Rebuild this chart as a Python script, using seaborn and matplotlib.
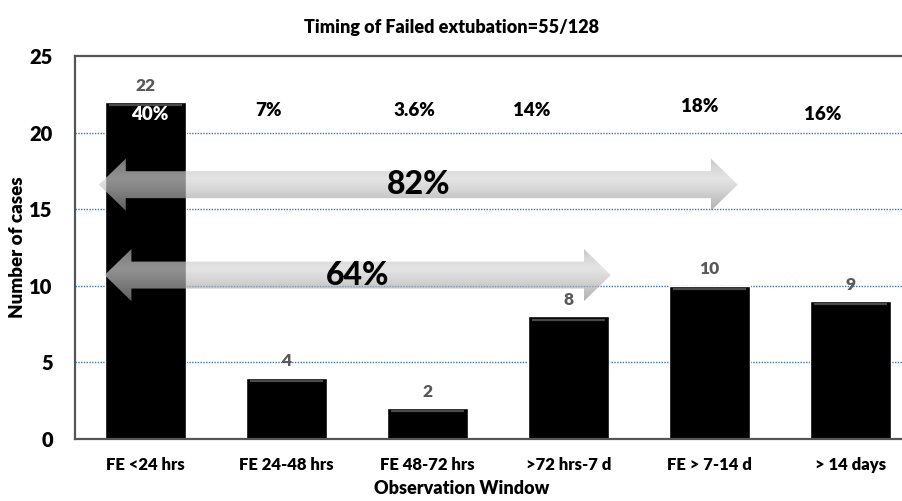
import numpy as np
import pandas as pd
import matplotlib
matplotlib.use("Agg")
import matplotlib.pyplot as plt
from matplotlib.patches import Polygon
from matplotlib.colors import LinearSegmentedColormap
import seaborn as sns

# Data
categories = ["FE <24 hrs", "FE 24-48 hrs", "FE 48-72 hrs", ">72 hrs-7 d", "FE > 7-14 d", "> 14 days"]
cases = [22, 4, 2, 8, 10, 9]
percent_labels = ["40%", "7%", "3.6%", "14%", "18%", "16%"]
cumulative_labels = ["82%", "64%"]
cumulative_spans = [(-0.33, 4.2), (-0.29, 3.3)]   # category-index range covered by each arrow
cumulative_levels = [16.6, 10.7]                  # vertical centre of each arrow (cases)
y_ticks = [0, 5, 10, 15, 20, 25]

# Placement of the percentage annotations (offsets in category units, heights in cases)
pct_dx = [0.03, -0.13, -0.09, -0.26, -0.07, -0.20]
pct_y = [21.15, 21.45, 21.45, 21.45, 21.7, 21.2]

sns.set_theme(style="white")
plt.rcParams["font.family"] = ["Lato", "DejaVu Sans"]

df = pd.DataFrame({"window": categories, "cases": cases})

fig = plt.figure(figsize=(9.03, 5.01), dpi=100)
ax = fig.add_axes([75 / 903, 1 - 439 / 501, 846 / 903, 383 / 501])

sns.barplot(data=df, x="window", y="cases", color="black", width=0.58,
            saturation=1, ax=ax, zorder=2)

ax.set_ylim(0, 25)
ax.set_xlim(-0.5, 5.5)
ax.set_yticks(y_ticks)
ax.set_yticklabels([str(t) for t in y_ticks], fontsize=14.5, fontweight="heavy", color="black")
ax.set_xticks(range(len(categories)))
ax.set_xticklabels(categories, fontsize=12, fontweight="heavy", color="black")
ax.tick_params(axis="y", length=0, pad=16)
ax.tick_params(axis="x", length=0, pad=13)

# dotted gridlines
for t in y_ticks[1:-1]:
    ax.axhline(t, color="#3d72b4", lw=1.0, ls=(0, (1, 1)), zorder=1)

for side in ["left", "top", "bottom"]:
    ax.spines[side].set_color("#555555")
    ax.spines[side].set_linewidth(1.6)
ax.spines["right"].set_visible(False)

# subtle bevel line at the top of every bar
for p in ax.patches:
    x0, w, h = p.get_x(), p.get_width(), p.get_height()
    ax.plot([x0 + 0.03, x0 + w - 0.03], [h - 0.2, h - 0.2], color="#4a4a4a",
            lw=1.6, solid_capstyle="butt", zorder=3)

# counts above bars
ax.bar_label(ax.containers[0], labels=[str(v) for v in cases], padding=6,
             fontsize=12.5, fontweight="heavy", color="#595959")

# percentage of all failed extubations
for i, (lab, dx, yy) in enumerate(zip(percent_labels, pct_dx, pct_y)):
    ax.text(i + dx, yy, lab, ha="center", va="center", fontsize=13.5, fontweight="heavy",
            color="white" if cases[i] > yy else "black", zorder=4)

# double-headed cumulative arrows with a vertical grey gradient
grad = LinearSegmentedColormap.from_list("arrowgrey", ["#8e8e8e", "#a8a8a8", "#c4c4c4", "#d8d8d8"])
body_half = 0.88
head_half = 1.7
head_len = 0.19
for lab, (x0, x1), yc in zip(cumulative_labels, cumulative_spans, cumulative_levels):
    pts = [
        (x0, yc),
        (x0 + head_len, yc + head_half),
        (x0 + head_len, yc + body_half),
        (x1 - head_len, yc + body_half),
        (x1 - head_len, yc + head_half),
        (x1, yc),
        (x1 - head_len, yc - head_half),
        (x1 - head_len, yc - body_half),
        (x0 + head_len, yc - body_half),
        (x0 + head_len, yc - head_half),
    ]
    outline = Polygon(pts, closed=True, facecolor="none", edgecolor="none", zorder=5)
    ax.add_patch(outline)
    ramp = np.linspace(0, 1, 64).reshape(-1, 1)
    ramp = np.clip(1 - np.abs(ramp - 0.62) * 1.6, 0, 1)
    img = ax.imshow(ramp, cmap=grad, aspect="auto", origin="lower", alpha=0.68,
                    extent=(x0, x1, yc - head_half, yc + head_half), zorder=5,
                    interpolation="bilinear")
    img.set_clip_path(outline)
    ax.text((x0 + x1) / 2, yc, lab, ha="center", va="center", fontsize=23,
            fontweight="black", color="black", zorder=6)

ax.set_xlim(-0.5, 5.5)
ax.set_ylim(0, 25)

ax.set_xlabel("Observation Window", fontsize=13, fontweight="heavy", color="black")
ax.set_ylabel("Number of cases", fontsize=13.5, fontweight="heavy", color="black")
ax.xaxis.set_label_coords((462 - 75) / 846, -0.108)
ax.yaxis.set_label_coords(-49 / 846, 0.5)

fig.text(452 / 903, 1 - 27 / 501, "Timing of Failed extubation=55/128", ha="center",
         va="center", fontsize=13, fontweight="heavy", color="black")

fig.savefig("out.png", dpi=100)
